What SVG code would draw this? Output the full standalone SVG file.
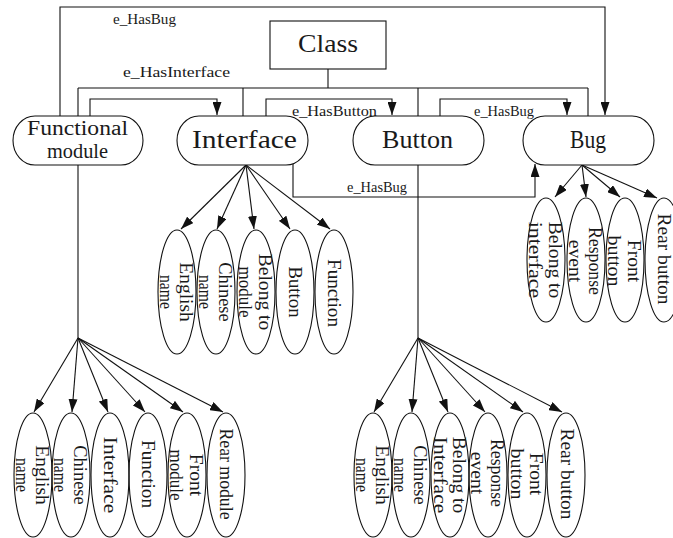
<svg xmlns="http://www.w3.org/2000/svg" width="673" height="538" viewBox="0 0 673 538">
<defs>
<style>
.ln{fill:none;stroke:#111;stroke-width:1.1}
.nd{fill:#fff;stroke:#111;stroke-width:1.1}
.el{fill:none;stroke:#111;stroke-width:1.1}
.t{font-family:"Liberation Serif","Times New Roman",serif;fill:#1a1a1a}
.big{font-size:25px;text-anchor:middle}
.mid{font-size:20px;text-anchor:middle}
.lab{font-size:15px}
.sm{font-size:18.5px;text-anchor:middle}
</style>
<marker id="arr" markerWidth="13" markerHeight="9" refX="13" refY="4.5" orient="auto" markerUnits="userSpaceOnUse"><path d="M0,0 L13,4.5 L0,9 z" fill="#111"/></marker>
</defs>
<rect width="673" height="538" fill="#fff"/>

<g id="connectors">
<path class="ln" d="M60,116 V7 H605 V115" marker-end="url(#arr)"/>
<path class="ln" d="M328,69 V88 M78,88 H588 M78,88 V116 M243,88 V116 M418,88 V116 M588,88 V116"/>
<path class="ln" d="M90,116 V99 H217 V115" marker-end="url(#arr)"/>
<path class="ln" d="M266,116 V99 H392 V115" marker-end="url(#arr)"/>
<path class="ln" d="M440,116 V99 H567 V115" marker-end="url(#arr)"/>
<path class="ln" d="M293,163 V197 H535 V164" marker-end="url(#arr)"/>
<path class="ln" d="M78,165 V338 M418,165 V338"/>
<g marker-end="url(#arr)">
<path class="ln" d="M246,165 L181,229"/>
<path class="ln" d="M246,165 L217,229"/>
<path class="ln" d="M246,165 L254,229"/>
<path class="ln" d="M246,165 L290,229"/>
<path class="ln" d="M246,165 L330,229"/>
<path class="ln" d="M582,165 L555,197"/>
<path class="ln" d="M582,165 L586,197"/>
<path class="ln" d="M582,165 L620,197"/>
<path class="ln" d="M582,165 L657,198"/>
<path class="ln" d="M78,338 L34,412"/>
<path class="ln" d="M78,338 L72,412"/>
<path class="ln" d="M78,338 L108,412"/>
<path class="ln" d="M78,338 L145,412"/>
<path class="ln" d="M78,338 L183,412"/>
<path class="ln" d="M78,338 L223,412"/>
<path class="ln" d="M418,338 L374,412"/>
<path class="ln" d="M418,338 L412,412"/>
<path class="ln" d="M418,338 L448,412"/>
<path class="ln" d="M418,338 L485,412"/>
<path class="ln" d="M418,338 L523,412"/>
<path class="ln" d="M418,338 L562,412"/>
</g>
<text class="t lab" x="113" y="24" textLength="63" lengthAdjust="spacingAndGlyphs">e_HasBug</text>
<text class="t lab" x="123" y="77" textLength="107" lengthAdjust="spacingAndGlyphs">e_HasInterface</text>
<text class="t lab" x="292" y="116" textLength="85" lengthAdjust="spacingAndGlyphs">e_HasButton</text>
<text class="t lab" x="474" y="116" textLength="60" lengthAdjust="spacingAndGlyphs">e_HasBug</text>
<text class="t lab" x="347" y="192" textLength="60" lengthAdjust="spacingAndGlyphs">e_HasBug</text>
</g>

<g id="class"><rect class="nd" x="270" y="21" width="116" height="48"/><text class="t big" x="328" y="52" textLength="60" lengthAdjust="spacingAndGlyphs">Class</text></g>
<g id="functional-module"><rect class="nd" x="13" y="116" width="130" height="49" rx="22" ry="24.5"/><text class="t mid" x="77.5" y="135" textLength="101" lengthAdjust="spacingAndGlyphs">Functional</text><text class="t mid" x="77.5" y="158" textLength="61" lengthAdjust="spacingAndGlyphs">module</text></g>
<g id="interface"><rect class="nd" x="177" y="116" width="131" height="49" rx="22" ry="24.5"/><text class="t big" x="244.5" y="148" textLength="105" lengthAdjust="spacingAndGlyphs">Interface</text></g>
<g id="button"><rect class="nd" x="353" y="116" width="131" height="49" rx="22" ry="24.5"/><text class="t big" x="417.5" y="148" textLength="71" lengthAdjust="spacingAndGlyphs">Button</text></g>
<g id="bug"><rect class="nd" x="523" y="116" width="131" height="49" rx="22" ry="24.5"/><text class="t big" x="588" y="148" textLength="36" lengthAdjust="spacingAndGlyphs">Bug</text></g>

<g id="iface-english"><ellipse class="el" cx="177" cy="292" rx="19" ry="62"/><g transform="translate(177,292) rotate(90)"><text class="t sm" x="0" y="-3" textLength="59.5" lengthAdjust="spacingAndGlyphs">English</text><text class="t sm" x="0" y="17" textLength="34" lengthAdjust="spacingAndGlyphs">name</text></g></g>
<g id="iface-chinese"><ellipse class="el" cx="216" cy="292" rx="19" ry="62"/><g transform="translate(216,292) rotate(90)"><text class="t sm" x="0" y="-3" textLength="59.5" lengthAdjust="spacingAndGlyphs">Chinese</text><text class="t sm" x="0" y="17" textLength="34" lengthAdjust="spacingAndGlyphs">name</text></g></g>
<g id="iface-belong"><ellipse class="el" cx="256" cy="292" rx="19" ry="62"/><g transform="translate(256,292) rotate(90)"><text class="t sm" x="0" y="-3" textLength="76.5" lengthAdjust="spacingAndGlyphs">Belong to</text><text class="t sm" x="0" y="17" textLength="51" lengthAdjust="spacingAndGlyphs">module</text></g></g>
<g id="iface-button"><ellipse class="el" cx="295" cy="292" rx="19" ry="62"/><g transform="translate(295,292) rotate(90)"><text class="t sm" x="0" y="6" textLength="51" lengthAdjust="spacingAndGlyphs">Button</text></g></g>
<g id="iface-function"><ellipse class="el" cx="334" cy="292" rx="19" ry="62"/><g transform="translate(334,293) rotate(90)"><text class="t sm" x="0" y="6" textLength="68" lengthAdjust="spacingAndGlyphs">Function</text></g></g>

<g id="bug-belong"><ellipse class="el" cx="546" cy="260" rx="19" ry="62"/><g transform="translate(546,260) rotate(90)"><text class="t sm" x="0" y="-3" textLength="76.5" lengthAdjust="spacingAndGlyphs">Belong to</text><text class="t sm" x="0" y="17" textLength="76.5" lengthAdjust="spacingAndGlyphs">interface</text></g></g>
<g id="bug-response"><ellipse class="el" cx="586" cy="260" rx="19" ry="62"/><g transform="translate(586,261) rotate(90)"><text class="t sm" x="0" y="-3" textLength="68" lengthAdjust="spacingAndGlyphs">Response</text><text class="t sm" x="0" y="17" textLength="42.5" lengthAdjust="spacingAndGlyphs">event</text></g></g>
<g id="bug-front"><ellipse class="el" cx="625" cy="260" rx="19" ry="62"/><g transform="translate(625,261) rotate(90)"><text class="t sm" x="0" y="-3" textLength="42.5" lengthAdjust="spacingAndGlyphs">Front</text><text class="t sm" x="0" y="17" textLength="51" lengthAdjust="spacingAndGlyphs">button</text></g></g>
<g id="bug-rear"><ellipse class="el" cx="664" cy="260" rx="19" ry="62"/><g transform="translate(664,259) rotate(90)"><text class="t sm" x="0" y="6" textLength="91" lengthAdjust="spacingAndGlyphs">Rear button</text></g></g>

<g id="fm-english"><ellipse class="el" cx="33" cy="475" rx="19" ry="62"/><g transform="translate(33,475) rotate(90)"><text class="t sm" x="0" y="-3" textLength="59.5" lengthAdjust="spacingAndGlyphs">English</text><text class="t sm" x="0" y="17" textLength="34" lengthAdjust="spacingAndGlyphs">name</text></g></g>
<g id="fm-chinese"><ellipse class="el" cx="71" cy="475" rx="19" ry="62"/><g transform="translate(71,475) rotate(90)"><text class="t sm" x="0" y="-3" textLength="59.5" lengthAdjust="spacingAndGlyphs">Chinese</text><text class="t sm" x="0" y="17" textLength="34" lengthAdjust="spacingAndGlyphs">name</text></g></g>
<g id="fm-interface"><ellipse class="el" cx="110" cy="475" rx="19" ry="62"/><g transform="translate(110,475) rotate(90)"><text class="t sm" x="0" y="6" textLength="76.5" lengthAdjust="spacingAndGlyphs">Interface</text></g></g>
<g id="fm-function"><ellipse class="el" cx="148" cy="475" rx="19" ry="62"/><g transform="translate(148,474) rotate(90)"><text class="t sm" x="0" y="6" textLength="68" lengthAdjust="spacingAndGlyphs">Function</text></g></g>
<g id="fm-front"><ellipse class="el" cx="187" cy="475" rx="19" ry="62"/><g transform="translate(187,475) rotate(90)"><text class="t sm" x="0" y="-3" textLength="42.5" lengthAdjust="spacingAndGlyphs">Front</text><text class="t sm" x="0" y="17" textLength="51" lengthAdjust="spacingAndGlyphs">module</text></g></g>
<g id="fm-rear"><ellipse class="el" cx="226" cy="475" rx="19" ry="62"/><g transform="translate(226,474) rotate(90)"><text class="t sm" x="0" y="6" textLength="91" lengthAdjust="spacingAndGlyphs">Rear module</text></g></g>

<g id="btn-english"><ellipse class="el" cx="373" cy="475" rx="19" ry="62"/><g transform="translate(373,475) rotate(90)"><text class="t sm" x="0" y="-3" textLength="59.5" lengthAdjust="spacingAndGlyphs">English</text><text class="t sm" x="0" y="17" textLength="34" lengthAdjust="spacingAndGlyphs">name</text></g></g>
<g id="btn-chinese"><ellipse class="el" cx="411" cy="475" rx="19" ry="62"/><g transform="translate(411,475) rotate(90)"><text class="t sm" x="0" y="-3" textLength="59.5" lengthAdjust="spacingAndGlyphs">Chinese</text><text class="t sm" x="0" y="17" textLength="34" lengthAdjust="spacingAndGlyphs">name</text></g></g>
<g id="btn-belong"><ellipse class="el" cx="450" cy="475" rx="19" ry="62"/><g transform="translate(450,475) rotate(90)"><text class="t sm" x="0" y="-3" textLength="76.5" lengthAdjust="spacingAndGlyphs">Belong to</text><text class="t sm" x="0" y="16" textLength="76.5" lengthAdjust="spacingAndGlyphs">Interface</text></g></g>
<g id="btn-response"><ellipse class="el" cx="488" cy="475" rx="19" ry="62"/><g transform="translate(488,473) rotate(90)"><text class="t sm" x="0" y="-3" textLength="68" lengthAdjust="spacingAndGlyphs">Response</text><text class="t sm" x="0" y="17" textLength="42.5" lengthAdjust="spacingAndGlyphs">event</text></g></g>
<g id="btn-front"><ellipse class="el" cx="527" cy="475" rx="19" ry="62"/><g transform="translate(527,474) rotate(90)"><text class="t sm" x="0" y="-3" textLength="42.5" lengthAdjust="spacingAndGlyphs">Front</text><text class="t sm" x="0" y="16" textLength="51" lengthAdjust="spacingAndGlyphs">button</text></g></g>
<g id="btn-rear"><ellipse class="el" cx="566" cy="475" rx="19" ry="62"/><g transform="translate(566,474) rotate(90)"><text class="t sm" x="0" y="5" textLength="91" lengthAdjust="spacingAndGlyphs">Rear button</text></g></g>
</svg>
